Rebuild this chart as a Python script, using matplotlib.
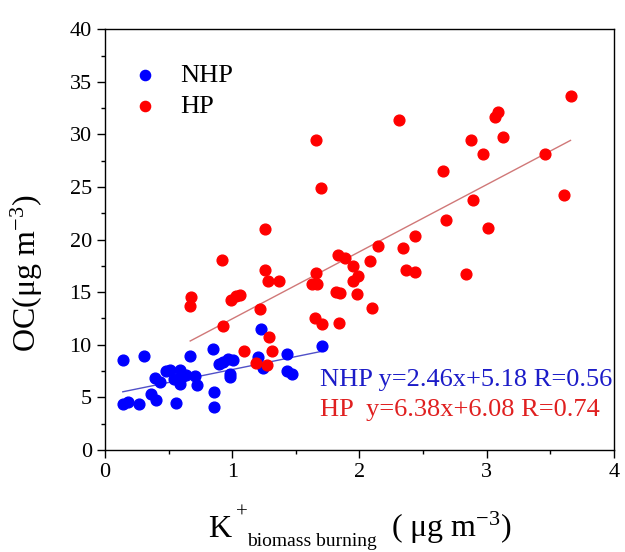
import numpy as np
import matplotlib
matplotlib.use("Agg")
import matplotlib.pyplot as plt
from matplotlib.ticker import MultipleLocator

plt.rcParams['font.family'] = ['Liberation Serif', 'DejaVu Serif']
plt.rcParams['mathtext.fontset'] = 'custom'
plt.rcParams['mathtext.rm'] = 'Liberation Serif'
plt.rcParams['mathtext.it'] = 'Liberation Serif:italic'

# NHP samples (K+ biomass burning vs OC)
nhp_k = [0.14, 0.31, 0.14, 0.18, 0.27, 0.36, 0.40, 0.39, 0.43, 0.48, 0.51,
         0.56, 0.54, 0.59, 0.60, 0.59, 0.64, 0.67, 0.71, 0.72, 0.85, 0.86,
         0.86, 0.90, 0.93, 0.97, 1.01, 0.98, 0.98, 1.23, 1.20, 1.24, 1.43,
         1.43, 1.47, 1.71]
nhp_oc = [8.5, 8.9, 4.4, 4.6, 4.4, 5.3, 4.7, 6.8, 6.5, 7.5, 7.6,
          4.5, 6.7, 7.6, 6.8, 6.3, 7.1, 8.9, 7.0, 6.2, 9.6, 5.5,
          4.1, 8.2, 8.4, 8.6, 8.5, 7.2, 6.9, 11.5, 8.8, 7.8, 9.1,
          7.5, 7.2, 9.9]

# HP samples
hp_k = [0.67, 0.68, 0.93, 1.22, 1.29, 1.31, 1.09, 1.19, 1.27, 1.65, 1.71,
        1.84, 1.66, 1.70, 1.26, 0.92, 1.26, 1.28, 1.37, 0.99, 1.03, 1.06,
        1.66, 1.63, 1.67, 1.83, 1.89, 1.95, 1.95, 1.99, 1.82, 1.85, 1.98,
        2.08, 2.15, 2.10, 2.31, 3.66, 3.07, 3.09, 2.88, 3.13, 2.97, 3.46,
        2.66, 2.89, 3.61, 2.68, 3.01, 2.44, 2.34, 2.37, 2.44, 2.84]
hp_oc = [13.7, 14.5, 11.8, 13.4, 10.7, 9.4, 9.4, 8.3, 8.1, 12.5, 12.0,
         12.1, 29.5, 24.9, 21.0, 18.1, 17.1, 16.1, 16.1, 14.3, 14.6, 14.7,
         16.8, 15.8, 15.8, 18.5, 18.2, 17.5, 16.1, 16.5, 15.0, 14.9, 14.8,
         18.0, 19.4, 13.5, 31.4, 33.7, 31.7, 32.1, 29.5, 29.8, 28.1, 28.1,
         26.5, 23.8, 24.2, 21.9, 21.1, 20.3, 19.2, 17.1, 16.9, 16.7]

# linear fits reported on the chart
nhp_fit = (2.46, 5.18, 0.56)
hp_fit = (6.38, 6.08, 0.74)

W, H = 625, 552
fig = plt.figure(figsize=(W / 100, H / 100), dpi=100)
ax = fig.add_axes([0.168, 0.185, 0.814, 0.762])

ax.scatter(nhp_k, nhp_oc, s=60, color='#0000ff', label='NHP', zorder=3)
ax.scatter(hp_k, hp_oc, s=60, color='#ff0000', label='HP', zorder=3)

xn = np.array([min(nhp_k), max(nhp_k)])
ax.plot(xn, nhp_fit[0] * xn + nhp_fit[1], color='#5050c8', lw=1, zorder=2)
xh = np.array([min(hp_k), max(hp_k)])
ax.plot(xh, hp_fit[0] * xh + hp_fit[1], color='#d07878', lw=1, zorder=2)

ax.text(1.69, 6.6, 'NHP y=%.2fx+%.2f R=%.2f' % nhp_fit, color='#1c1cc8',
        fontsize=19, va='center')
ax.text(1.69, 3.8, 'HP  y=%.2fx+%.2f R=%.2f' % hp_fit, color='#e02020',
        fontsize=19, va='center')

ax.set_xlim(0, 4)
ax.set_ylim(0, 40)
ax.xaxis.set_major_locator(MultipleLocator(1))
ax.xaxis.set_minor_locator(MultipleLocator(0.5))
ax.yaxis.set_major_locator(MultipleLocator(5))
ax.yaxis.set_minor_locator(MultipleLocator(2.5))
ax.tick_params(which='major', direction='out', length=6, width=1, labelsize=16)
ax.tick_params(which='minor', direction='out', length=3, width=1)
for sp in ax.spines.values():
    sp.set_linewidth(1)

# axis titles placed by hand (pixel positions, y from top)
def px(x, y):
    return x / W, 1 - y / H

fig.text(*px(27, 273), 'OC(μg m$^{-3}$)', rotation=90, fontsize=23,
         ha='center', va='center')
fig.text(*px(208, 537), 'K', fontsize=23, va='baseline')
fig.text(*px(236, 518), '+', fontsize=15, va='baseline')
fig.text(*px(247, 546), 'biomass burning', fontsize=14, va='baseline')
fig.text(*px(391, 537), '( μg m$^{-3}$)', fontsize=23, va='baseline')

ax.legend(loc='upper left', bbox_to_anchor=(-0.02, 0.975), frameon=False,
          fontsize=19, handletextpad=0.35, labelspacing=0.3, markerscale=0.95)

fig.savefig('out.png', dpi=100)
